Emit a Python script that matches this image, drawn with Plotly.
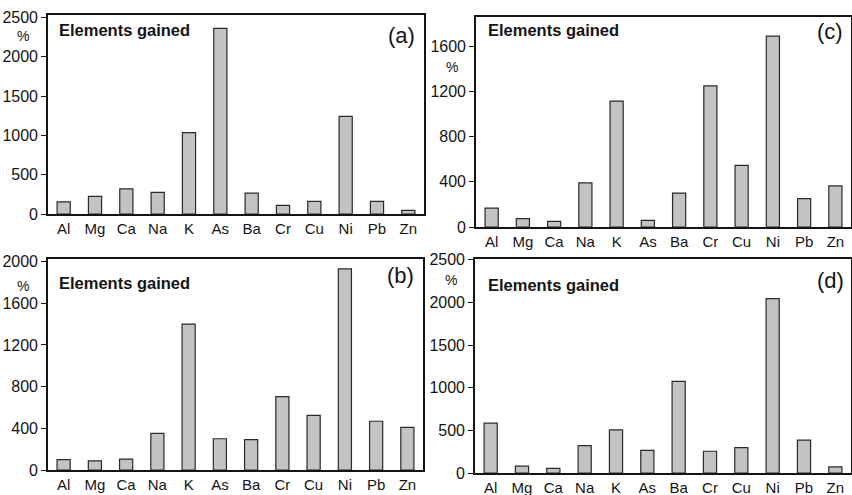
import plotly.graph_objects as go

elements = ["Al", "Mg", "Ca", "Na", "K", "As", "Ba", "Cr", "Cu", "Ni", "Pb", "Zn"]

gain_a = [155, 225, 320, 275, 1035, 2360, 265, 110, 160, 1240, 160, 45]
gain_b = [100, 88, 105, 352, 1400, 300, 292, 705, 525, 1930, 468, 410]
gain_c = [168, 74, 50, 390, 1115, 58, 300, 1250, 545, 1690, 252, 365]
gain_d = [585, 80, 55, 320, 505, 265, 1075, 255, 298, 2045, 385, 72]

ticks_a = [0, 500, 1000, 1500, 2000, 2500]
ticks_b = [0, 400, 800, 1200, 1600, 2000]
ticks_c = [0, 400, 800, 1200, 1600]
ticks_d = [0, 500, 1000, 1500, 2000, 2500]

panel_title = "Elements gained"
W, H = 852, 495
FONT = "Liberation Sans, Arial, Helvetica, sans-serif"
INK = "#141414"

# panel geometry in pixels: (left, right, top, bottom)
panels = [
    ("a", gain_a, ticks_a, 2530, (48, 424, 15, 214)),
    ("c", gain_c, ticks_c, 1860, (476, 851, 17, 227)),
    ("b", gain_b, ticks_b, 2025, (48, 423, 259, 470)),
    ("d", gain_d, ticks_d, 2510, (475, 851, 259, 473)),
]

fig = go.Figure()
annotations = []
layout = {}

def px(x):
    return x / W

def py(y):
    return 1 - y / H

for i, (tag, vals, ticks, ymax, (l, r, t, b)) in enumerate(panels, start=1):
    xa = "x" if i == 1 else f"x{i}"
    ya = "y" if i == 1 else f"y{i}"
    fig.add_trace(go.Bar(
        x=elements, y=vals, xaxis=xa, yaxis=ya,
        marker=dict(color="#c3c3c3", line=dict(color="#2a2a2a", width=1.2)),
        showlegend=False, hoverinfo="x+y",
    ))
    key = "" if i == 1 else str(i)
    layout[f"xaxis{key}"] = dict(
        domain=[px(l), px(r)], anchor=ya,
        showline=True, linecolor=INK, linewidth=1.6, mirror=True,
        ticks="", showgrid=False, zeroline=False, automargin=False,
        tickfont=dict(family=FONT, size=15, color=INK),
        fixedrange=True,
    )
    layout[f"yaxis{key}"] = dict(
        domain=[py(b), py(t)], anchor=xa, range=[0, ymax],
        tickvals=ticks, ticktext=[str(v) for v in ticks],
        showline=True, linecolor=INK, linewidth=1.6, mirror=True,
        ticks="outside", ticklen=5, tickwidth=1.2, tickcolor=INK,
        showgrid=False, zeroline=False, automargin=False,
        tickfont=dict(family=FONT, size=16, color=INK),
        fixedrange=True,
    )

# Text positions (pixels)
title_pos = {"a": (57, 30), "c": (486, 30), "b": (57, 283), "d": (486, 285)}
tag_pos = {"a": (417, 35), "c": (845, 32), "b": (416, 275), "d": (846, 280)}
pct_pos = {"a": (23, 36), "c": (452, 67), "b": (23, 286), "d": (451, 280)}

for tag in ["a", "c", "b", "d"]:
    x, y = title_pos[tag]
    annotations.append(dict(x=px(x), y=py(y), xref="paper", yref="paper",
                            text=f"<b>{panel_title}</b>", showarrow=False,
                            xanchor="left", yanchor="middle",
                            font=dict(family=FONT, size=16.5, color=INK)))
    x, y = tag_pos[tag]
    annotations.append(dict(x=px(x), y=py(y), xref="paper", yref="paper",
                            text=f"({tag})", showarrow=False,
                            xanchor="right", yanchor="middle",
                            font=dict(family=FONT, size=22, color=INK)))
    x, y = pct_pos[tag]
    annotations.append(dict(x=px(x), y=py(y), xref="paper", yref="paper",
                            text="%", showarrow=False,
                            xanchor="center", yanchor="middle",
                            font=dict(family=FONT, size=14, color=INK)))

fig.update_layout(
    width=W, height=H,
    margin=dict(l=0, r=0, t=0, b=0),
    paper_bgcolor="white", plot_bgcolor="white",
    bargap=0.58,
    annotations=annotations,
    **layout,
)

fig.write_html(
    "out.html",
    config={"displayModeBar": False},
    post_script="document.body.style.margin='0';document.body.style.overflow='hidden';",
)
